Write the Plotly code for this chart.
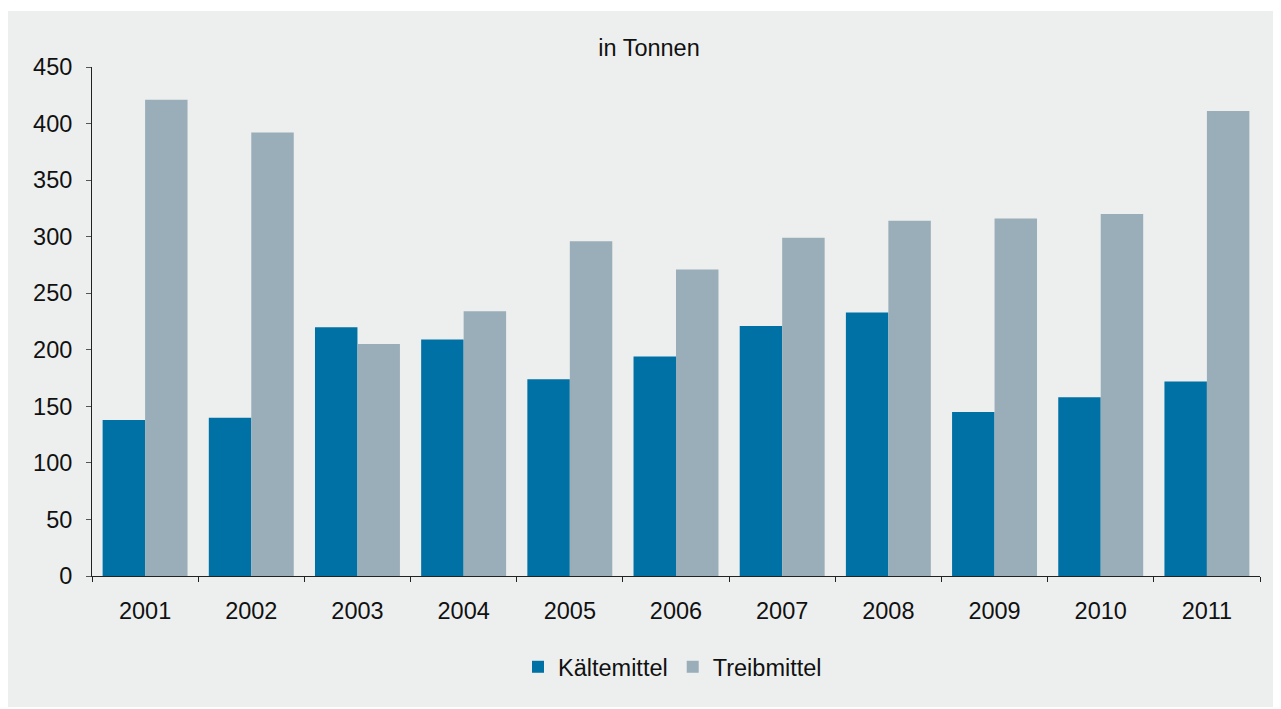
import plotly.graph_objects as go

years = ["2001", "2002", "2003", "2004", "2005", "2006", "2007", "2008", "2009", "2010", "2011"]
kaeltemittel = [138, 140, 220, 209, 174, 194, 221, 233, 145, 158, 172]
treibmittel = [421, 392, 205, 234, 296, 271, 299, 314, 316, 320, 411]

BG = "#edefef"
FONT = "Liberation Sans, Arial, Helvetica, sans-serif"
W, H = 1273, 701
L, R, T, B = 84, 21, 59, 133
PW, PH = W - L - R, H - T - B

fig = go.Figure()
fig.add_bar(x=years, y=kaeltemittel, name="Kältemittel", marker_color="#0071a4", marker_line_width=0)
fig.add_bar(x=years, y=treibmittel, name="Treibmittel", marker_color="#9aaeb9", marker_line_width=0)

fig.update_layout(
    width=W, height=H,
    paper_bgcolor="white", plot_bgcolor=BG,
    barmode="group", bargap=0.2, bargroupgap=0,
    margin=dict(l=L, r=R, t=T, b=B, pad=0),
    font=dict(family=FONT, size=23.5, color="#111111"),
    title=dict(text="in Tonnen", x=(649 - 8) / W, xanchor="center", xref="container", y=1 - 40 / H,
               yanchor="middle", font=dict(family=FONT, size=23.5, color="#111111")),
    legend=dict(orientation="h", x=0.497, xanchor="center", y=-(667 - 576) / PH, yanchor="middle",
                font=dict(family=FONT, size=23.5), bgcolor="rgba(0,0,0,0)", itemwidth=30,
                traceorder="normal"),
    shapes=[dict(type="rect", xref="paper", yref="paper", x0=-(L + 1) / PW, x1=(1268 - L) / PW,
                 y0=-(699 - (T + PH)) / PH, y1=(T + PH - 3) / PH, fillcolor=BG, line_width=0, layer="below")],
)
fig.update_xaxes(showline=True, linecolor="#222222", linewidth=1, ticks="outside", ticklen=5,
                 tickcolor="#222222", tickson="boundaries", showgrid=False, ticklabelstandoff=14)
fig.update_yaxes(range=[0, 450], dtick=50, showline=True, linecolor="#222222", linewidth=1,
                 ticks="outside", ticklen=5, tickcolor="#555555", showgrid=False, zeroline=False,
                 ticklabelstandoff=9)

fig.write_html("out.html")
